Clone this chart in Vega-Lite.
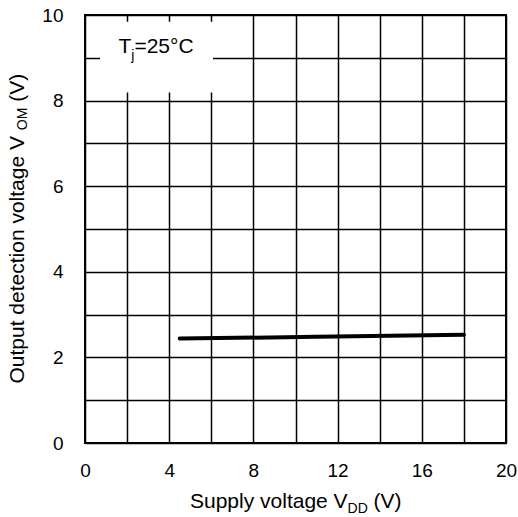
{
  "$schema": "https://vega.github.io/schema/vega-lite/v6.json",
  "width": 421,
  "height": 428,
  "autosize": {"type": "none"},
  "padding": {"left": 85, "top": 15, "right": 12, "bottom": 74},
  "background": "white",
  "config": {
    "font": "Liberation Sans",
    "view": {"stroke": "black", "strokeWidth": 2},
    "text": {"font": "Liberation Sans", "color": "black"}
  },
  "layer": [
    {
      "data": {"values": [
        {"vdd": 4.5, "vom": 2.44},
        {"vdd": 11, "vom": 2.48},
        {"vdd": 18, "vom": 2.53}
      ]},
      "mark": {"type": "line", "color": "black", "strokeWidth": 4, "strokeCap": "round"},
      "encoding": {
        "x": {
          "field": "vdd", "type": "quantitative", "title": null,
          "scale": {"domain": [0, 20], "nice": false, "zero": false},
          "axis": {
            "values": [0, 2, 4, 6, 8, 10, 12, 14, 16, 18, 20],
            "labelExpr": "datum.value % 4 === 0 ? datum.label : ''",
            "grid": true, "gridColor": "black", "gridWidth": 1.5, "gridOpacity": 1,
            "domain": false, "ticks": false,
            "labelFontSize": 19, "labelPadding": 18, "labelColor": "black",
            "labelFont": "Liberation Sans", "labelFlush": false, "labelOverlap": false
          }
        },
        "y": {
          "field": "vom", "type": "quantitative", "title": null,
          "scale": {"domain": [0, 10], "nice": false, "zero": false},
          "axis": {
            "values": [0, 1, 2, 3, 4, 5, 6, 7, 8, 9, 10],
            "labelExpr": "datum.value % 2 === 0 ? datum.label : ''",
            "grid": true, "gridColor": "black", "gridWidth": 1.5, "gridOpacity": 1,
            "domain": false, "ticks": false,
            "labelFontSize": 19, "labelPadding": 22, "labelColor": "black",
            "labelFont": "Liberation Sans", "labelFlush": false, "labelOverlap": false
          }
        }
      }
    },
    {
      "data": {"values": [{}]},
      "mark": {"type": "rect", "color": "white", "opacity": 1},
      "encoding": {
        "x": {"datum": 0.71, "type": "quantitative", "title": null},
        "x2": {"datum": 6.08},
        "y": {"datum": 8.19, "type": "quantitative", "title": null},
        "y2": {"datum": 9.84}
      }
    },
    {
      "data": {"values": [{}]},
      "mark": {"type": "text", "fontSize": 21, "align": "left", "baseline": "alphabetic", "text": "T"},
      "encoding": {
        "x": {"datum": 1.59, "type": "quantitative", "title": null},
        "y": {"datum": 9.11, "type": "quantitative", "title": null}
      }
    },
    {
      "data": {"values": [{}]},
      "mark": {"type": "text", "fontSize": 14, "align": "left", "baseline": "alphabetic", "text": "j"},
      "encoding": {
        "x": {"datum": 2.198, "type": "quantitative", "title": null},
        "y": {"datum": 8.95, "type": "quantitative", "title": null}
      }
    },
    {
      "data": {"values": [{}]},
      "mark": {"type": "text", "fontSize": 21, "align": "left", "baseline": "alphabetic", "text": "=25°C"},
      "encoding": {
        "x": {"datum": 2.347, "type": "quantitative", "title": null},
        "y": {"datum": 9.11, "type": "quantitative", "title": null}
      }
    },
    {
      "data": {"values": [{}]},
      "mark": {"type": "text", "fontSize": 21, "align": "left", "baseline": "alphabetic", "text": "Supply voltage V"},
      "encoding": {
        "x": {"datum": 4.988, "type": "quantitative", "title": null},
        "y": {"datum": -1.519, "type": "quantitative", "title": null}
      }
    },
    {
      "data": {"values": [{}]},
      "mark": {"type": "text", "fontSize": 14, "align": "left", "baseline": "alphabetic", "text": "DD"},
      "encoding": {
        "x": {"datum": 12.475, "type": "quantitative", "title": null},
        "y": {"datum": -1.636, "type": "quantitative", "title": null}
      }
    },
    {
      "data": {"values": [{}]},
      "mark": {"type": "text", "fontSize": 21, "align": "left", "baseline": "alphabetic", "text": "(V)"},
      "encoding": {
        "x": {"datum": 13.71, "type": "quantitative", "title": null},
        "y": {"datum": -1.519, "type": "quantitative", "title": null}
      }
    },
    {
      "data": {"values": [{}]},
      "mark": {"type": "text", "fontSize": 21, "align": "left", "baseline": "alphabetic", "angle": 270, "text": "Output detection voltage  V"},
      "encoding": {
        "x": {"datum": -2.898, "type": "quantitative", "title": null},
        "y": {"datum": 1.39, "type": "quantitative", "title": null}
      }
    },
    {
      "data": {"values": [{}]},
      "mark": {"type": "text", "fontSize": 14, "align": "left", "baseline": "alphabetic", "angle": 270, "text": "OM"},
      "encoding": {
        "x": {"datum": -2.755, "type": "quantitative", "title": null},
        "y": {"datum": 7.308, "type": "quantitative", "title": null}
      }
    },
    {
      "data": {"values": [{}]},
      "mark": {"type": "text", "fontSize": 21, "align": "left", "baseline": "alphabetic", "angle": 270, "text": "(V)"},
      "encoding": {
        "x": {"datum": -2.898, "type": "quantitative", "title": null},
        "y": {"datum": 7.972, "type": "quantitative", "title": null}
      }
    }
  ]
}
